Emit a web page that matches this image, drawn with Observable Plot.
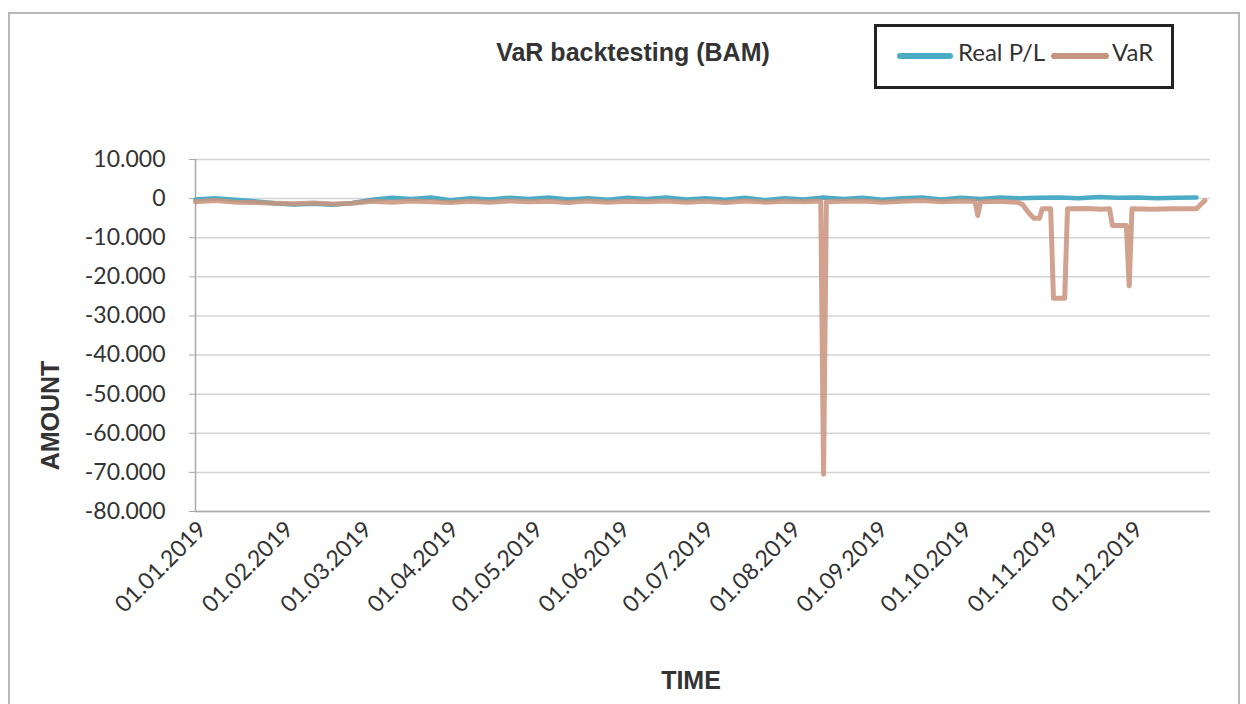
<!DOCTYPE html>
<html><head><meta charset="utf-8">
<script src="https://cdn.jsdelivr.net/npm/d3@7"></script>
<script src="https://cdn.jsdelivr.net/npm/@observablehq/plot@0.6"></script>
<style>
body{margin:0;background:#fff;}
#wrap{position:relative;width:1246px;height:704px;overflow:hidden;background:#fff;}
#border{position:absolute;left:8px;top:12px;width:1232px;height:700px;border:2px solid #b8b8b8;box-sizing:border-box;}
#title{position:absolute;left:633px;top:38px;transform:translateX(-50%);white-space:nowrap;font:bold 25px "Liberation Sans",Arial,sans-serif;color:#333;}
#legend{position:absolute;left:874px;top:24px;width:300px;height:65px;border:3px solid #222;box-sizing:border-box;font-family:Lato,sans-serif;font-size:24px;color:#333;}
.sw{position:absolute;height:6px;border-radius:3px;top:26px;}
.lt{position:absolute;top:10px;white-space:nowrap;}
#chart{position:absolute;left:0;top:0;}
</style></head>
<body>
<div id="wrap">
  <div id="border"></div>
  <div id="chart"></div>
  <div id="title">VaR backtesting (BAM)</div>
  <div id="legend">
    <div class="sw" id="sw1" style="left:20px;width:56px;"></div><div class="lt" style="left:81px;">Real P/L</div>
    <div class="sw" id="sw2" style="left:174px;width:58px;"></div><div class="lt" style="left:235px;">VaR</div>
  </div>
</div>
<script>
// ---- data ----
const seriesNames = ["Real P/L", "VaR"];
const seriesColors = ["#4bacc6", "#c99580"];

const yTicks = [10000, 0, -10000, -20000, -30000, -40000, -50000, -60000, -70000, -80000];
const xTickDates = ["2019-01-01","2019-02-01","2019-03-01","2019-04-01","2019-05-01","2019-06-01",
  "2019-07-01","2019-08-01","2019-09-01","2019-10-01","2019-11-01","2019-12-01"];

// Real P/L, weekly readings starting 01.01.2019
const plStart = "2019-01-01";
const plValues = [
  -200, 100, -300, -700, -1200,
  -1500, -1300, -1600, -1100,
  -300, 200, -100, 300,
  -400, 100, -200, 200, -100,
  300, -200, 100, -300,
  200, -100, 300, -200,
  100, -300, 200, -400, 100,
  -200, 300, -100, 200,
  -300, 100, 300, -200,
  200, -100, 300, 100, 200,
  300, 100, 400, 200,
  300, 100, 200, 300
];

// VaR readings
const varDates = [
  "2019-01-01","2019-01-08","2019-01-15","2019-01-22","2019-01-29",
  "2019-02-05","2019-02-12","2019-02-19","2019-02-26",
  "2019-03-05","2019-03-12","2019-03-19","2019-03-26",
  "2019-04-02","2019-04-09","2019-04-16","2019-04-23","2019-04-30",
  "2019-05-07","2019-05-14","2019-05-21","2019-05-28",
  "2019-06-04","2019-06-11","2019-06-18","2019-06-25",
  "2019-07-02","2019-07-09","2019-07-16","2019-07-23","2019-07-30",
  "2019-08-06","2019-08-12","2019-08-13","2019-08-14","2019-08-20","2019-08-27",
  "2019-09-03","2019-09-10","2019-09-17","2019-09-24",
  "2019-10-01","2019-10-06","2019-10-07","2019-10-08","2019-10-14","2019-10-21",
  "2019-10-23","2019-10-25","2019-10-27","2019-10-29","2019-10-30","2019-11-02","2019-11-03",
  "2019-11-07","2019-11-08","2019-11-15",
  "2019-11-20","2019-11-23","2019-11-24","2019-11-29","2019-11-30","2019-12-01","2019-12-08","2019-12-15",
  "2019-12-20","2019-12-24","2019-12-27"
];
const varValues = [
  -800, -500, -900, -1000, -1200,
  -1300, -1100, -1400, -1200,
  -700, -900, -600, -800,
  -1000, -700, -900, -600, -800,
  -700, -1000, -600, -900,
  -700, -800, -600, -900,
  -700, -1000, -600, -900, -700,
  -800, -600, -70500, -800, -700, -600,
  -900, -700, -500, -800,
  -600, -700, -4300, -800, -700, -900,
  -1500, -3500, -5000, -5000, -2600, -2600, -25500,
  -25500, -2600, -2500,
  -2700, -2600, -6900, -6900, -22300, -2600, -2700, -2600,
  -2600, -2600, -500
];

// ---- build ----
const parse = d3.utcParse("%Y-%m-%d");
const start = parse(plStart);
const plData = plValues.map((v, i) => ({date: d3.utcDay.offset(start, 7 * i), value: v}));
const varData = varDates.map((d, i) => ({date: parse(d), value: varValues[i]}));
const xTicks = xTickDates.map(parse);
const xDomain = [parse("2019-01-01"), parse("2019-12-29")];

document.getElementById("sw1").style.background = seriesColors[0];
document.getElementById("sw2").style.background = seriesColors[1];

const loc = d3.formatLocale({decimal: ",", thousands: ".", grouping: [3], currency: ["", ""], minus: "-"});
const fmt = loc.format(",");

const chart = Plot.plot({
  width: 1246, height: 704,
  marginLeft: 195, marginRight: 36, marginTop: 159, marginBottom: 193,
  style: {fontFamily: "Lato, sans-serif", fontSize: "23px", color: "#333", background: "transparent"},
  x: {type: "utc", domain: xDomain},
  y: {domain: [-80000, 10000]},
  marks: [
    Plot.gridY(yTicks, {stroke: "#d4d4d4", strokeOpacity: 1, strokeWidth: 1.5}),
    Plot.ruleY([-80000], {stroke: "#a8a8a8", strokeWidth: 1.5}),
    Plot.ruleX([xDomain[0]], {stroke: "#a8a8a8", strokeWidth: 1.5}),
    Plot.axisY(yTicks, {tickFormat: fmt, tickSize: 6, tickPadding: 24, stroke: "#a8a8a8", fontSize: 23, label: null}),
    Plot.axisX(xTicks, {tickFormat: d3.utcFormat("%d.%m.%Y"), tickRotate: -45, tickSize: 0, tickPadding: 14, dx: 7, fontSize: 23, label: null}),
    Plot.line(plData, {x: "date", y: "value", stroke: seriesColors[0], strokeWidth: 4.5}),
    Plot.line(varData, {x: "date", y: "value", stroke: seriesColors[1], strokeWidth: 5, strokeOpacity: 0.88}),
    Plot.text(["AMOUNT"], {frameAnchor: "left", textAnchor: "middle", lineAnchor: "middle", dx: -145, dy: 80, rotate: -90,
      fontWeight: "bold", fontSize: 25, fontFamily: "Liberation Sans, Arial, sans-serif", fill: "#333"}),
    Plot.text(["TIME"], {frameAnchor: "bottom", textAnchor: "middle", lineAnchor: "middle", dx: -12, dy: 169,
      fontWeight: "bold", fontSize: 25, fontFamily: "Liberation Sans, Arial, sans-serif", fill: "#333"})
  ]
});
document.getElementById("chart").appendChild(chart);
</script>
</body></html>
